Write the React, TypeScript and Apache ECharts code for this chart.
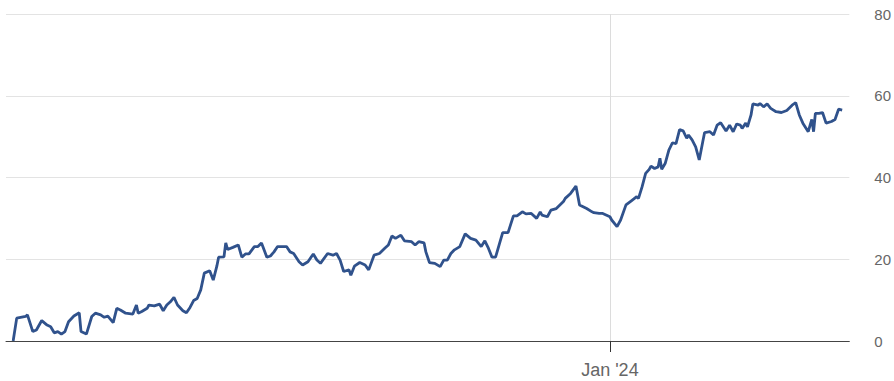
import React, { useEffect, useRef } from "react";
import * as echarts from "echarts";

const dates: string[] = [
  "2023-02-01", "2023-02-03", "2023-02-08", "2023-02-09", "2023-02-12", "2023-02-14", "2023-02-17", "2023-02-20",
  "2023-02-22", "2023-02-24", "2023-02-26", "2023-02-28", "2023-03-02", "2023-03-04", "2023-03-07", "2023-03-10",
  "2023-03-11", "2023-03-14", "2023-03-17", "2023-03-19", "2023-03-22", "2023-03-24", "2023-03-26", "2023-03-29",
  "2023-03-31", "2023-04-02", "2023-04-05", "2023-04-09", "2023-04-11", "2023-04-12", "2023-04-14", "2023-04-17",
  "2023-04-18", "2023-04-21", "2023-04-24", "2023-04-26", "2023-04-28", "2023-04-30", "2023-05-02", "2023-05-04",
  "2023-05-07", "2023-05-09", "2023-05-11", "2023-05-13", "2023-05-15", "2023-05-17", "2023-05-19", "2023-05-22",
  "2023-05-24", "2023-05-26", "2023-05-27", "2023-05-30", "2023-05-31", "2023-06-01", "2023-06-04", "2023-06-07",
  "2023-06-09", "2023-06-11", "2023-06-13", "2023-06-16", "2023-06-18", "2023-06-20", "2023-06-23", "2023-06-25",
  "2023-06-27", "2023-06-29", "2023-07-04", "2023-07-06", "2023-07-08", "2023-07-11", "2023-07-13", "2023-07-16",
  "2023-07-19", "2023-07-21", "2023-07-23", "2023-07-27", "2023-07-30", "2023-08-01", "2023-08-03", "2023-08-05",
  "2023-08-08", "2023-08-09", "2023-08-11", "2023-08-14", "2023-08-17", "2023-08-19", "2023-08-22", "2023-08-25",
  "2023-08-28", "2023-08-30", "2023-09-01", "2023-09-03", "2023-09-06", "2023-09-08", "2023-09-12", "2023-09-14",
  "2023-09-16", "2023-09-19", "2023-09-20", "2023-09-22", "2023-09-25", "2023-09-28", "2023-09-30", "2023-10-02",
  "2023-10-04", "2023-10-06", "2023-10-09", "2023-10-12", "2023-10-15", "2023-10-18", "2023-10-21", "2023-10-23",
  "2023-10-25", "2023-10-27", "2023-10-29", "2023-10-31", "2023-11-02", "2023-11-05", "2023-11-08", "2023-11-10",
  "2023-11-13", "2023-11-15", "2023-11-18", "2023-11-21", "2023-11-23", "2023-11-24", "2023-11-27", "2023-11-29",
  "2023-12-02", "2023-12-06", "2023-12-07", "2023-12-10", "2023-12-13", "2023-12-15", "2023-12-19", "2023-12-22",
  "2023-12-23", "2023-12-26", "2023-12-28", "2024-01-01", "2024-01-02", "2024-01-05", "2024-01-07", "2024-01-10",
  "2024-01-13", "2024-01-16", "2024-01-17", "2024-01-19", "2024-01-21", "2024-01-23", "2024-01-24", "2024-01-26",
  "2024-01-28", "2024-01-29", "2024-01-30", "2024-02-01", "2024-02-03", "2024-02-05", "2024-02-07", "2024-02-09",
  "2024-02-11", "2024-02-13", "2024-02-14", "2024-02-16", "2024-02-18", "2024-02-20", "2024-02-22", "2024-02-23",
  "2024-02-26", "2024-02-28", "2024-03-01", "2024-03-03", "2024-03-06", "2024-03-08", "2024-03-10", "2024-03-12",
  "2024-03-14", "2024-03-15", "2024-03-17", "2024-03-18", "2024-03-20", "2024-03-21", "2024-03-24", "2024-03-25",
  "2024-03-27", "2024-03-29", "2024-03-31", "2024-04-03", "2024-04-06", "2024-04-09", "2024-04-12", "2024-04-14",
  "2024-04-16", "2024-04-18", "2024-04-21", "2024-04-23", "2024-04-24", "2024-04-25", "2024-04-27", "2024-04-29",
  "2024-05-01", "2024-05-04", "2024-05-06", "2024-05-08", "2024-05-10",
];

const values: number[] = [
  0, 5.6, 6.0, 6.4, 2.3, 2.7, 5.0, 3.9,
  3.5, 2.0, 2.3, 1.7, 2.3, 4.7, 6.1, 6.9,
  2.3, 1.7, 6.0, 6.8, 6.4, 5.8, 6.1, 4.5,
  8.0, 7.6, 6.8, 6.6, 8.8, 6.8, 7.2, 8.0,
  8.8, 8.6, 9.0, 7.4, 8.8, 9.6, 10.7, 8.8,
  7.4, 6.9, 8.2, 9.9, 10.4, 12.5, 16.6, 17.2,
  14.9, 18.3, 20.5, 20.6, 24.0, 22.4, 22.9, 23.5,
  20.5, 21.3, 21.3, 23.1, 23.1, 24.0, 20.5, 20.8,
  21.8, 23.1, 23.1, 21.8, 21.4, 19.4, 18.6, 19.4,
  21.3, 19.8, 19.0, 21.4, 21.0, 21.4, 19.8, 17.0,
  17.4, 16.1, 18.3, 19.2, 18.6, 17.4, 21.0, 21.4,
  22.7, 23.5, 25.7, 25.1, 25.9, 24.5, 24.3, 23.5,
  24.3, 24.0, 21.8, 19.2, 19.0, 18.2, 19.8, 19.8,
  21.4, 22.3, 23.1, 26.2, 25.1, 24.7, 23.1, 24.5,
  22.7, 20.5, 20.5, 23.5, 26.5, 26.5, 30.6, 30.6,
  31.6, 31.1, 31.2, 30.0, 31.6, 30.8, 30.4, 32.0,
  32.4, 34.1, 34.9, 36.1, 37.9, 33.3, 32.4, 31.6,
  31.4, 31.2, 31.2, 30.4, 29.6, 28.0, 29.6, 33.3,
  34.3, 35.3, 34.9, 37.7, 41.0, 42.0, 42.8, 42.2,
  42.6, 44.7, 42.0, 43.5, 46.7, 48.5, 48.3, 51.7,
  51.4, 49.6, 50.4, 49.2, 47.5, 44.3, 48.8, 51.0,
  51.2, 50.4, 52.8, 53.4, 51.4, 52.8, 51.2, 53.1,
  52.8, 52.0, 53.3, 52.4, 55.3, 58.0, 57.7, 58.1,
  57.3, 58.0, 56.9, 56.1, 55.9, 56.4, 57.7, 58.3,
  55.3, 53.3, 51.2, 54.2, 51.2, 55.7, 55.7, 55.9,
  53.3, 53.7, 54.2, 56.7, 56.5,
];

const xMin = "2023-01-28";
const xMax = "2024-05-14";
const markDate = "2024-01-01";
const markLabel = "Jan '24";
const yTicks = [0, 20, 40, 60, 80];

const ts = (d: string) => {
  const [y, m, dd] = d.split("-").map(Number);
  return Date.UTC(y, m - 1, dd);
};

export default function App() {
  const ref = useRef<HTMLDivElement>(null);
  useEffect(() => {
    if (!ref.current) return;
    const chart = echarts.init(ref.current, null, { renderer: "svg" });
    const markTs = ts(markDate);
    chart.setOption({
      animation: false,
      backgroundColor: "#ffffff",
      grid: { left: 6, right: 44, top: 14, bottom: 40, containLabel: false },
      xAxis: {
        type: "value",
        min: ts(xMin),
        max: ts(xMax),
        scale: true,
        axisLine: { show: true, onZero: false, lineStyle: { color: "#444", width: 1 } },
        axisTick: {
          show: true,
          customValues: [markTs],
          length: 11,
          lineStyle: { color: "#333", width: 1 },
        },
        axisLabel: {
          show: true,
          customValues: [markTs],
          formatter: () => markLabel,
          color: "#666",
          fontSize: 18,
          fontFamily: "Liberation Sans, Arial, sans-serif",
          margin: 20,
        },
        splitLine: { show: false },
      },
      yAxis: {
        type: "value",
        position: "right",
        min: yTicks[0],
        max: yTicks[yTicks.length - 1],
        interval: 20,
        axisLine: { show: false },
        axisTick: { show: false },
        axisLabel: {
          color: "#666",
          fontSize: 15,
          fontFamily: "Liberation Sans, Arial, sans-serif",
          margin: 25,
        },
        splitLine: { show: true, lineStyle: { color: "#e3e3e3", width: 1 } },
      },
      series: [
        {
          type: "line",
          data: dates.map((d, i) => [ts(d), values[i]]),
          showSymbol: false,
          symbol: "none",
          lineStyle: { color: "#30528c", width: 2.8 },
          z: 3,
          markLine: {
            silent: true,
            symbol: ["none", "none"],
            label: { show: false },
            lineStyle: { color: "#dcdcdc", width: 1, type: "solid" },
            data: [{ xAxis: markTs }],
            z: 1,
          },
        },
      ],
    });
    return () => chart.dispose();
  }, []);
  return (
    <div
      ref={ref}
      style={{ position: "fixed", left: 0, top: 0, width: 894, height: 381 }}
    />
  );
}
